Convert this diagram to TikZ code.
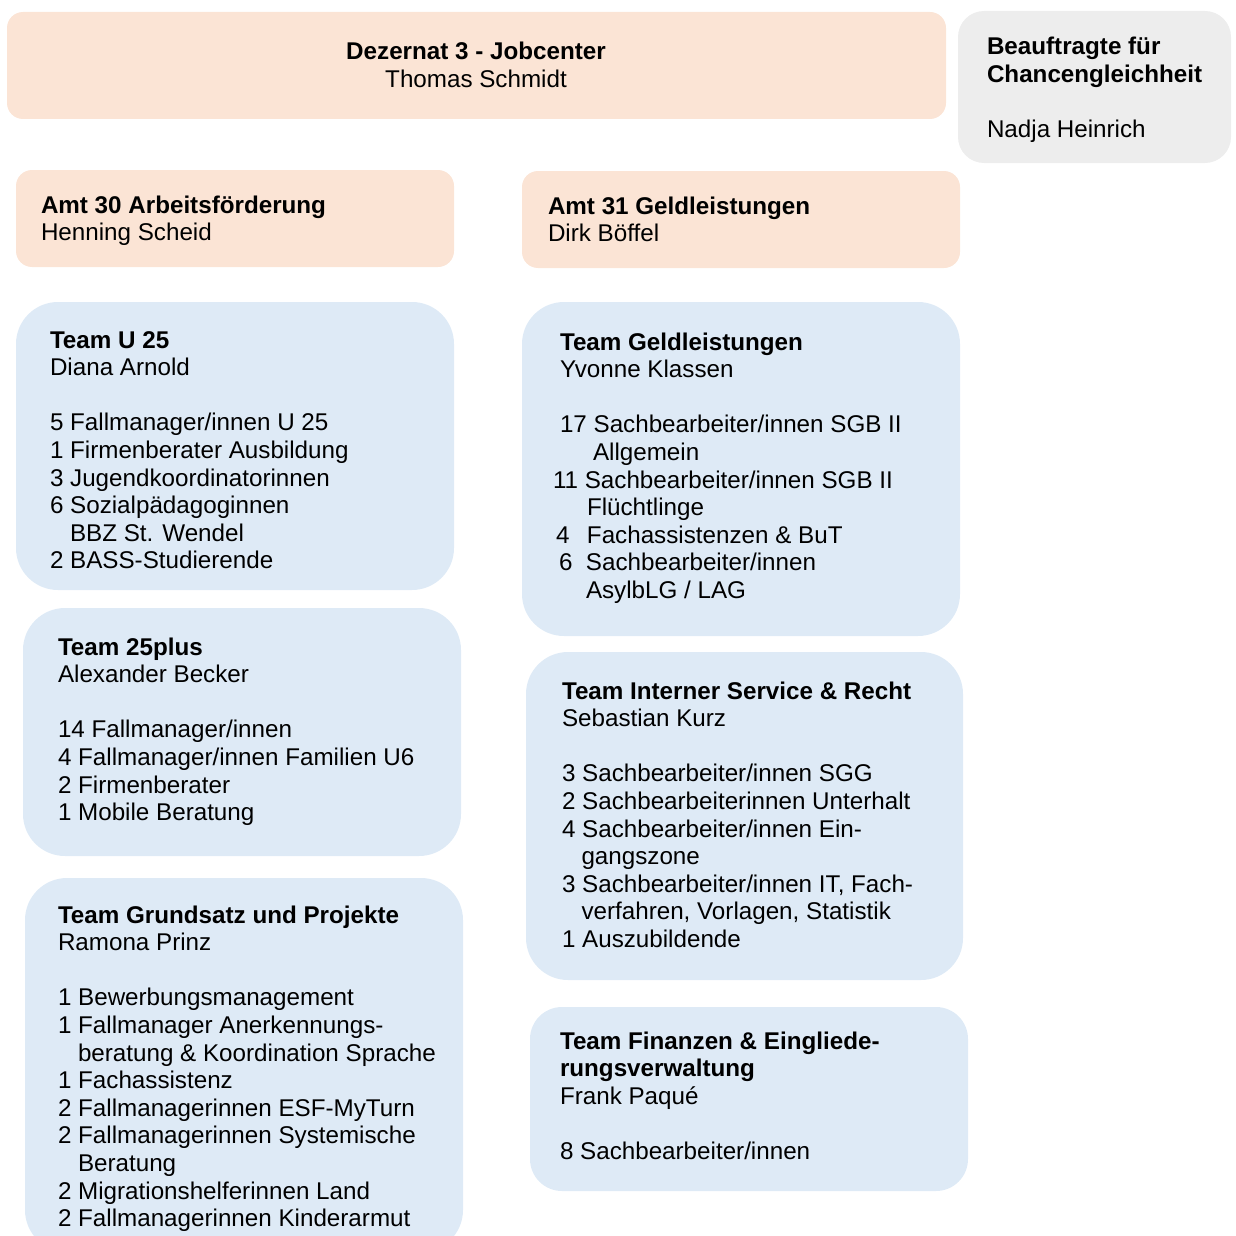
\documentclass[tikz,border=0pt]{standalone}
\usepackage{fontspec}
\setmainfont{Liberation Sans}
\definecolor{peach}{HTML}{FBE4D5}
\definecolor{paleblue}{HTML}{DEEAF6}
\definecolor{palegrey}{HTML}{EDEDED}
\newcommand\blk[1]{\vtop{\halign{##\hfil\cr#1\crcr}}}
\newcommand\cblk[1]{\vtop{\halign{\hfil##\hfil\cr#1\crcr}}}
\newcommand\ind[1]{\hskip #1pt\relax}
\newcommand\num[2]{\hbox to #1pt{#2\hfil}}
\tikzset{
  boxbase/.style={anchor=north west, inner sep=0pt, outer sep=0pt},
  peachbox/.style={boxbase, fill=peach, rounded corners=16pt},
  greybox/.style={boxbase, fill=palegrey, rounded corners=26pt},
  bluebox/.style={boxbase, fill=paleblue, rounded corners=42pt},
  txt/.style={anchor=base west, inner sep=0pt, outer sep=0pt,
    font=\fontsize{24.2}{27.6}\selectfont},
  ctxt/.style={txt, anchor=base},
}
\begin{document}
\begin{tikzpicture}[x=1pt,y=-1pt]
\useasboundingbox (0,0) rectangle (1236,1236);
\clip (0,0) rectangle (1236,1236);
% boxes
\node[peachbox, minimum width=939, minimum height=107] (dez) at (7,12) {};
\node[greybox, minimum width=273, minimum height=152] (bca) at (958,11) {};
\node[peachbox, minimum width=438, minimum height=97] (amt30) at (16,170) {};
\node[peachbox, minimum width=438, minimum height=97] (amt31) at (522,171) {};
\node[bluebox, minimum width=438, minimum height=288] (u25) at (16,302) {};
\node[bluebox, minimum width=438, minimum height=248] (t25p) at (23,608) {};
\node[bluebox, minimum width=438, minimum height=374] (grund) at (25,878) {};
\node[bluebox, minimum width=438, minimum height=334] (geld) at (522,302) {};
\node[bluebox, minimum width=437, minimum height=328] (intern) at (526,652) {};
\node[bluebox, rounded corners=32pt, minimum width=438, minimum height=184] (fin) at (530,1007) {};
% texts
\node[ctxt] (dezt) at (476,60) {\cblk{\bfseries Dezernat 3 - Jobcenter\cr Thomas Schmidt}};
\node[txt] (bcat) at (987,55) {\blk{\bfseries Beauftragte für\cr \bfseries Chancengleichheit\cr \cr Nadja Heinrich}};
\node[txt] (amt30t) at (41,213) {\blk{\bfseries Amt 30 Arbeitsförderung\cr Henning Scheid}};
\node[txt] (amt31t) at (548,214) {\blk{\bfseries Amt 31 Geldleistungen\cr Dirk Böffel}};
\node[txt] (u25t) at (50,348) {\blk{\bfseries Team U 25\cr Diana Arnold\cr \cr
5 Fallmanager/innen U 25\cr
1 Firmenberater Ausbildung\cr
3 Jugendkoordinatorinnen\cr
6 Sozialpädagoginnen\cr
\ind{20}BBZ St. Wendel\cr
2 BASS-Studierende}};
\node[txt] (t25pt) at (58,655) {\blk{\bfseries Team 25plus\cr Alexander Becker\cr \cr
14 Fallmanager/innen\cr
4 Fallmanager/innen Familien U6\cr
2 Firmenberater\cr
1 Mobile Beratung}};
\node[txt] (grundt) at (58,923) {\blk{\bfseries Team Grundsatz und Projekte\cr Ramona Prinz\cr \cr
1 Bewerbungsmanagement\cr
1 Fallmanager Anerkennungs-\cr
\ind{20}beratung \& Koordination Sprache\cr
1 Fachassistenz\cr
2 Fallmanagerinnen ESF-MyTurn\cr
2 Fallmanagerinnen Systemische\cr
\ind{20}Beratung\cr
2 Migrationshelferinnen Land\cr
2 Fallmanagerinnen Kinderarmut}};
\node[txt] (geldt) at (553,350) {\blk{\ind{7}\bfseries Team Geldleistungen\cr \ind{7}Yvonne Klassen\cr \cr
\ind{7}17 Sachbearbeiter/innen SGB II\cr
\ind{40}Allgemein\cr
11 Sachbearbeiter/innen SGB II\cr
\ind{34}Flüchtlinge\cr
\num{34}{\ind{3}4}Fachassistenzen \& BuT\cr
\num{33}{\ind{6}6}Sachbearbeiter/innen\cr
\ind{33}AsylbLG / LAG}};
\node[txt] (internt) at (562,699) {\blk{\bfseries Team Interner Service \& Recht\cr Sebastian Kurz\cr \cr
3 Sachbearbeiter/innen SGG\cr
2 Sachbearbeiterinnen Unterhalt\cr
4 Sachbearbeiter/innen Ein-\cr
\ind{19.5}gangszone\cr
3 Sachbearbeiter/innen IT, Fach-\cr
\ind{19.5}verfahren, Vorlagen, Statistik\cr
1 Auszubildende}};
\node[txt] (fint) at (560,1049) {\blk{\bfseries Team Finanzen \& Eingliede-\cr \bfseries rungsverwaltung\cr Frank Paqué\cr \cr
8 Sachbearbeiter/innen}};
\end{tikzpicture}
\end{document}
